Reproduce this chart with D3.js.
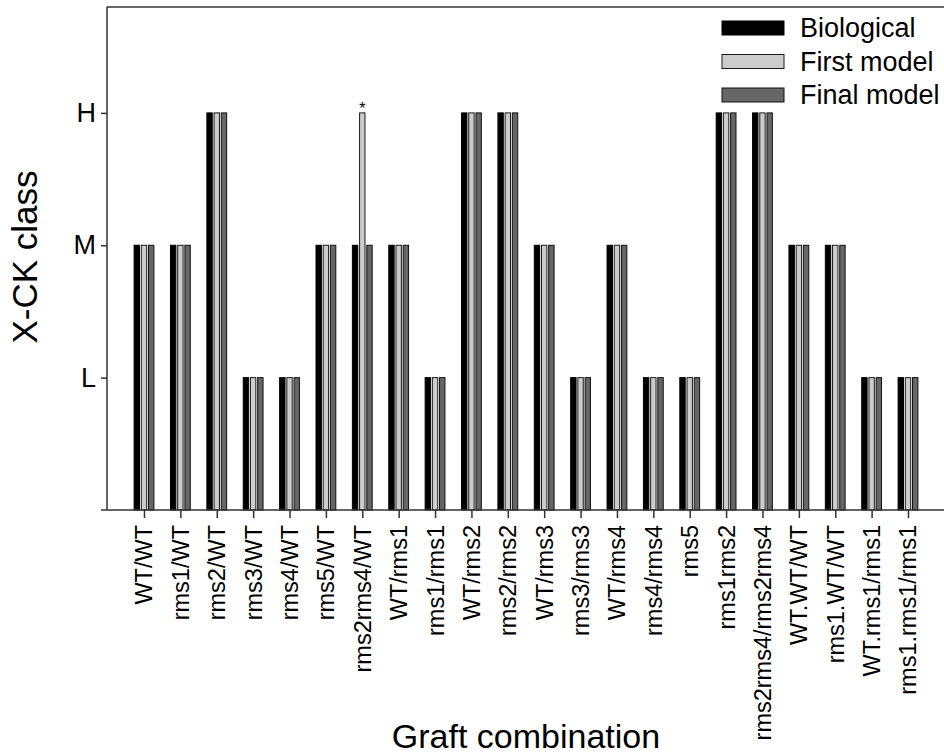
<!DOCTYPE html>
<html lang="en">
  <head>
    <meta charset="UTF-8" />
    <title>X-CK class by graft combination</title>
    <script src="https://cdn.jsdelivr.net/npm/d3@7"></script>
    <style>
      body { margin: 0; background: #fff; }
      svg { font-family: "Liberation Sans", Arial, sans-serif; }
    </style>
  </head>
  <body>
    <svg width="944" height="756"></svg>
    <script>
      const width = 944;
      const height = 756;

      const categories = [
        "WT/WT", "rms1/WT", "rms2/WT", "rms3/WT", "rms4/WT", "rms5/WT",
        "rms2rms4/WT", "WT/rms1", "rms1/rms1", "WT/rms2", "rms2/rms2",
        "WT/rms3", "rms3/rms3", "WT/rms4", "rms4/rms4", "rms5", "rms1rms2",
        "rms2rms4/rms2rms4", "WT.WT/WT", "rms1.WT/WT", "WT.rms1/rms1",
        "rms1.rms1/rms1"
      ];
      const seriesNames = ["Biological", "First model", "Final model"];
      // 1 = L, 2 = M, 3 = H
      const biological = [2, 2, 3, 1, 1, 2, 2, 2, 1, 3, 3, 2, 1, 2, 1, 1, 3, 3, 2, 2, 1, 1];
      const firstModel = [2, 2, 3, 1, 1, 2, 3, 2, 1, 3, 3, 2, 1, 2, 1, 1, 3, 3, 2, 2, 1, 1];
      const finalModel = [2, 2, 3, 1, 1, 2, 2, 2, 1, 3, 3, 2, 1, 2, 1, 1, 3, 3, 2, 2, 1, 1];
      const yTickValues = [1, 2, 3];
      const yTickLabels = ["L", "M", "H"];
      const starred = ["rms2rms4/WT"]; // marked over the first model bar

      const seriesValues = [biological, firstModel, finalModel];
      const fills = ["#000000", "#cccccc", "#666666"];
      const strokes = ["#000000", "#1a1a1a", "#111111"];

      const plotLeft = 107, plotTop = 7, plotBottom = 510, plotRight = 960;

      const svg = d3.select("svg");

      const xScale = d3.scalePoint().domain(categories).range([144, 908]);
      const inner = d3.scaleBand().domain(seriesNames)
        .range([-10.8, 10.8]).paddingInner(0.25).paddingOuter(0.125);
      const yScale = d3.scaleLinear().domain([0, 3.8]).range([plotBottom, plotTop]);

      // bars
      seriesNames.forEach((name, si) => {
        svg.append("g")
          .selectAll("rect")
          .data(seriesValues[si])
          .join("rect")
          .attr("x", (d, i) => xScale(categories[i]) + inner(name))
          .attr("y", (d) => yScale(d))
          .attr("width", inner.bandwidth())
          .attr("height", (d) => yScale(0) - yScale(d))
          .attr("fill", fills[si])
          .attr("stroke", strokes[si])
          .attr("stroke-width", 1);
      });

      // asterisk
      svg.append("g")
        .selectAll("text")
        .data(starred)
        .join("text")
        .attr("x", (d) => xScale(d) + inner("First model") + inner.bandwidth() / 2)
        .attr("y", (d) => yScale(firstModel[categories.indexOf(d)]) + 1)
        .attr("text-anchor", "middle")
        .attr("font-size", 16)
        .attr("fill", "#000")
        .text("*");

      // frame
      svg.append("line")
        .attr("x1", plotLeft).attr("x2", plotRight)
        .attr("y1", plotTop).attr("y2", plotTop)
        .attr("stroke", "#333").attr("stroke-width", 1.5);

      // x axis
      const xAxis = svg.append("g")
        .attr("transform", `translate(0,${plotBottom})`)
        .call(d3.axisBottom(xScale).tickSize(8).tickSizeOuter(0).tickFormat(""));
      xAxis.select(".domain").attr("d", `M${plotLeft - 6},0H${plotRight}`)
        .attr("stroke", "#333").attr("stroke-width", 1.5);
      xAxis.selectAll(".tick line").attr("stroke", "#333").attr("stroke-width", 1.5);

      svg.append("g")
        .selectAll("text")
        .data(categories)
        .join("text")
        .attr("transform", (d) => `translate(${xScale(d)},${plotBottom + 15}) rotate(-90)`)
        .attr("dy", "0.36em")
        .attr("text-anchor", "end")
        .attr("font-size", 23.5)
        .text((d) => d);

      // y axis
      const yAxis = svg.append("g")
        .attr("transform", `translate(${plotLeft},0)`)
        .call(d3.axisLeft(yScale).tickValues(yTickValues).tickSize(6).tickSizeOuter(0)
          .tickFormat((d, i) => yTickLabels[i]));
      yAxis.select(".domain").attr("d", `M0,${plotTop}V${plotBottom}`)
        .attr("stroke", "#333").attr("stroke-width", 1.5);
      yAxis.selectAll(".tick line").attr("stroke", "#333").attr("stroke-width", 1.5);
      yAxis.selectAll(".tick text")
        .attr("x", -11)
        .attr("font-size", 27)
        .attr("font-family", "Liberation Sans, Arial, sans-serif")
        .attr("fill", "#000");

      // axis titles
      svg.append("text")
        .attr("transform", `translate(37,257) rotate(-90)`)
        .attr("text-anchor", "middle")
        .attr("font-size", 35)
        .text("X-CK class");

      svg.append("text")
        .attr("x", 526)
        .attr("y", 748)
        .attr("text-anchor", "middle")
        .attr("font-size", 34)
        .text("Graft combination");

      // legend
      const legend = svg.append("g")
        .selectAll("g")
        .data(seriesNames)
        .join("g")
        .attr("transform", (d, i) => `translate(722,${28 + i * 33.5})`);
      legend.append("rect")
        .attr("x", 0).attr("y", -7)
        .attr("width", 62).attr("height", 14)
        .attr("fill", (d, i) => fills[i])
        .attr("stroke", (d, i) => strokes[i]);
      legend.append("text")
        .attr("x", 78)
        .attr("y", 9)
        .attr("font-size", 27)
        .text((d) => d);
    </script>
  </body>
</html>
